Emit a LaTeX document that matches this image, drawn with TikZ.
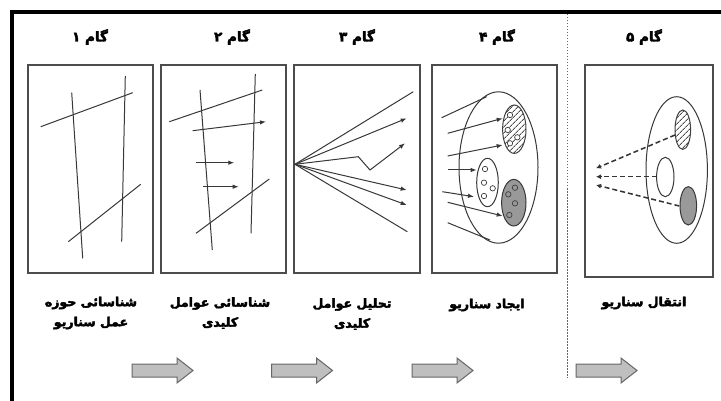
\documentclass[tikz,border=0pt]{standalone}
\usepackage{fontspec}
\usetikzlibrary{arrows.meta,patterns.meta}
\TeXXeTstate=1
\newfontfamily\fa[Script=Arabic,FakeBold=3]{DejaVu Sans}
\tikzset{
  panel/.style={draw=black!70, line width=1.2pt, minimum width=125pt, minimum height=208pt, inner sep=0pt},
  ln/.style={draw=black!78, line width=1pt},
  arr/.style={ln, -{Latex[length=6pt,width=4.5pt]}},
  darr/.style={draw=black!80, line width=1.5pt, dash pattern=on 5pt off 3pt, -{Latex[length=5pt,width=5pt]}},
  steptitle/.style={font=\fa\bfseries\fontsize{13.5}{16}\selectfont},
  lbl/.style={font=\fa\bfseries\fontsize{12.5}{20}\selectfont, align=center},
  blockarrow/.style={draw=black!60, fill=black!25, line width=1pt, line join=miter},
  hatch/.style={draw=black!75, line width=1pt, pattern={Lines[angle=45,distance=4pt,line width=0.9pt]}, pattern color=black!70},
  dot/.style={draw=black!75, line width=0.7pt}
}
\begin{document}
\begin{tikzpicture}[x=1pt,y=-1pt]
\useasboundingbox (0,0) rectangle (721,401);
\fill[white] (0,0) rectangle (721,401);
% frame
\draw[line width=4pt] (10,12) -- (721,12);
\draw[line width=4pt] (12,10) -- (12,401);
\draw[black!60, line width=1pt, dash pattern=on 1.5pt off 1.5pt] (567,14) -- (567,378);

% titles
\node[steptitle] (t1) at (90,37) {\beginR گام ۱\endR};
\node[steptitle] (t2) at (232,37) {\beginR گام ۲\endR};
\node[steptitle] (t3) at (357,37) {\beginR گام ۳\endR};
\node[steptitle] (t4) at (497,37) {\beginR گام ۴\endR};
\node[steptitle] (t5) at (644,37) {\beginR گام ۵\endR};

% panels
\node[panel] (p1) at (90.5,169) {};
\node[panel] (p2) at (223.5,169) {};
\node[panel, minimum width=126pt] (p3) at (357,169) {};
\node[panel] (p4) at (494.5,169) {};
\node[panel, minimum width=128pt, minimum height=212pt] (p5) at (649,171) {};

% panel 1
\draw[ln] (71.7,92.7) -- (82.7,258.3);
\draw[ln] (125.3,76) -- (121.7,241.7);
\draw[ln] (40.7,126.7) -- (132.7,92.7);
\draw[ln] (68.3,241.7) -- (140.7,184.3);

% panel 2
\draw[ln] (200,90) -- (212.3,250);
\draw[ln] (255.3,74) -- (251,233.3);
\draw[ln] (169.3,121.7) -- (262.3,90);
\draw[arr] (192.7,130.7) -- (266,121.7);
\draw[arr] (195.7,162.7) -- (234.3,162.7);
\draw[arr] (203.3,186.7) -- (238.7,186.7);
\draw[ln] (196,233.3) -- (269.3,179);

% panel 3
\coordinate (o) at (295,164.3);
\draw[ln] (o) -- (413.3,91.7);
\draw[arr] (o) -- (406.7,118.3);
\draw[arr] (o) -- (358.3,156.7) -- (370,170) -- (405,143.3);
\draw[arr] (o) -- (406.7,190);
\draw[arr] (o) -- (406.7,205);
\draw[ln] (o) -- (407.3,231.7);

% panel 4
\draw[ln] (498.5,167.5) ellipse [x radius=39.5pt, y radius=75.7pt];
\draw[hatch] (514.3,129.2) ellipse [x radius=11.7pt, y radius=24.2pt];
\draw[ln, fill=white] (487.5,182.5) ellipse [x radius=10.8pt, y radius=24.2pt];
\draw[ln, fill=black!40] (513.8,202.7) ellipse [x radius=12.2pt, y radius=23.3pt];
\foreach \p in {(510,115),(507.7,130),(510,143.3),(517.3,137.3),
                (485,169),(484,182.7),(492.7,188.3),(484,196)}
  \draw[dot, fill=white] \p circle (2.7pt);
\foreach \p in {(515,187.7),(508.3,194.3),(515,203.3),(509.3,215)}
  \draw[dot] \p circle (2.7pt);
\draw[ln] (441.7,117.7) -- (486.7,96.7);
\draw[arr] (447.7,133.3) -- (502.7,118.3);
\draw[arr] (447.7,156) -- (502.7,145);
\draw[arr] (447.7,170) -- (476.7,170);
\draw[arr] (442.3,191.7) -- (474,196.7);
\draw[arr] (447.7,202.3) -- (502.7,216);
\draw[ln] (447.7,222.7) -- (490,240);

% panel 5
\draw[ln] (676.7,170) ellipse [x radius=30.7pt, y radius=73.3pt];
\draw[hatch] (682.8,129.7) ellipse [x radius=7.8pt, y radius=19.7pt];
\draw[ln, fill=white] (665.3,177) ellipse [x radius=8.7pt, y radius=19.7pt];
\draw[ln, fill=black!40] (688.3,205.8) ellipse [x radius=8.3pt, y radius=19.2pt];
\draw[darr] (675,135) -- (596,168.3);
\draw[darr] (656.7,176.7) -- (596,176.7);
\draw[darr] (679.3,206) -- (596,185);

% labels
\node[lbl] (l1) at (91,313) {\beginR شناسائی حوزه\endR\\\beginR عمل سناریو\endR};
\node[lbl] (l2) at (220,313) {\beginR شناسائی عوامل\endR\\\beginR کلیدی\endR};
\node[lbl] (l3) at (352,314) {\beginR تحلیل عوامل\endR\\\beginR کلیدی\endR};
\node[lbl] (l4) at (487,305) {\beginR ایجاد سناریو\endR};
\node[lbl] (l5) at (644,303) {\beginR انتقال سناریو\endR};

% block arrows
\foreach \cx [count=\i] in {162.5,302,442.5,606.5}
  \draw[blockarrow, shift={(\cx,370.5)}] (-30.5,-6.5) -- (14.5,-6.5) -- (14.5,-12.5)
     -- (30.5,0) -- (14.5,12.5) -- (14.5,6.5) -- (-30.5,6.5) -- cycle;
\end{tikzpicture}
\end{document}
